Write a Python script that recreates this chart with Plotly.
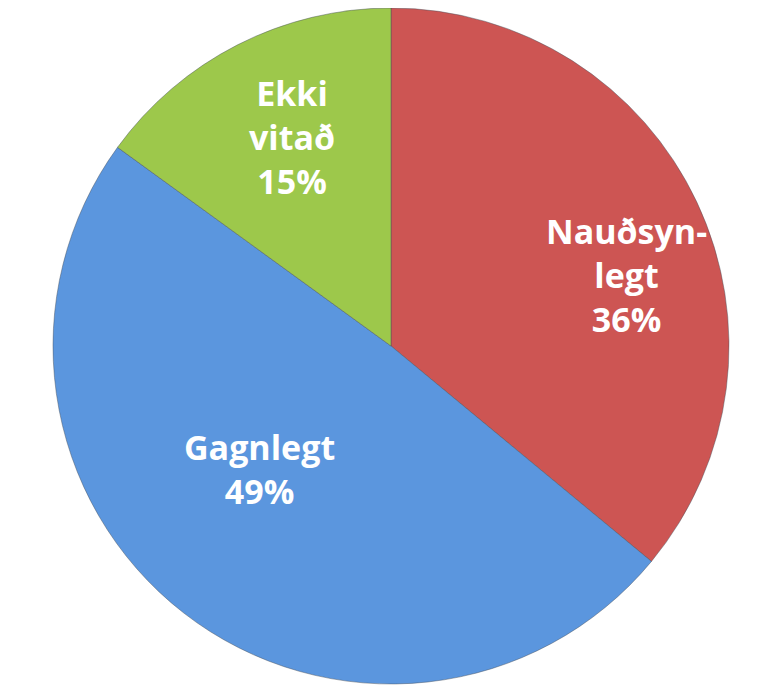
import plotly.graph_objects as go

labels = ["Nauðsynlegt", "Gagnlegt", "Ekki vitað"]
display_labels = ["Nauðsyn-<br>legt", "Gagnlegt", "Ekki<br>vitað"]
values = [36, 49, 15]
colors = ["#CD5553", "#5B96DE", "#9DC84B"]

# where each slice label sits (paper coords), the original chart is a bit oval
label_pos = [(0.818, 0.605), (0.322, 0.318), (0.366, 0.809)]

fig = go.Figure()
fig.add_trace(go.Pie(
    labels=labels,
    values=values,
    textinfo="none",
    marker=dict(colors=colors, line=dict(color="rgba(70,80,90,0.45)", width=1)),
    sort=False,
    direction="clockwise",
    rotation=0,
    showlegend=False,
    hoverinfo="label+percent",
))

total = sum(values)
for txt, v, (px, py) in zip(display_labels, values, label_pos):
    fig.add_annotation(
        x=px, y=py, xref="paper", yref="paper",
        xanchor="center", yanchor="middle",
        text=f"{txt}<br>{round(100 * v / total)}%",
        showarrow=False,
        font=dict(family="Open Sans", size=34, color="white", weight="bold"),
    )

# page body has an 8px margin, so the figure is a little smaller than the window
fig.update_layout(
    width=753, height=682,
    margin=dict(l=13, r=0, t=0, b=6),
    paper_bgcolor="white",
)
fig.write_html("out.html")
